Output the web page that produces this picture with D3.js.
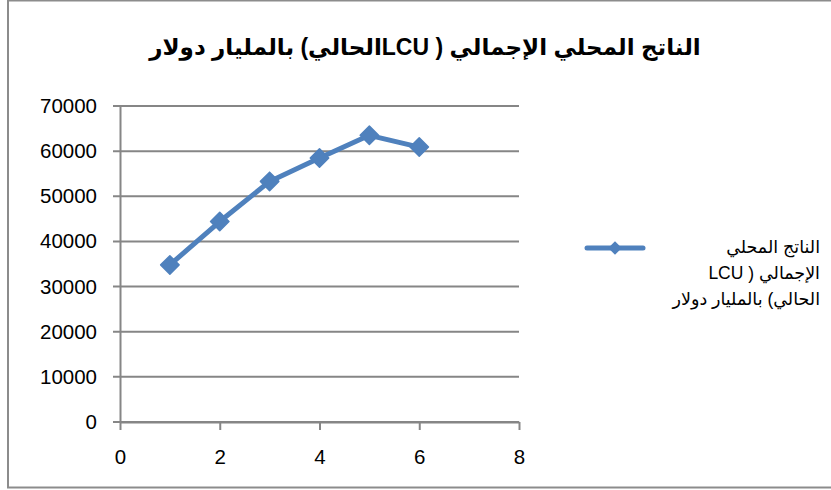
<!DOCTYPE html>
<meta charset="utf-8">
<style>
    body { margin: 0; background: #fff; }
    text { font-family: Arial, "Liberation Sans", "DejaVu Sans", sans-serif; }
    #chart { display: block; }
</style>
<svg id="chart" width="831" height="490"></svg>
<script src="https://d3js.org/d3.v7.min.js"></script>
<script>

    // data
    var years = [1, 2, 3, 4, 5, 6];
    var gdp = [34800, 44400, 53300, 58500, 63500, 60900];
    var xTicks = [0, 2, 4, 6, 8];
    var yTicks = [0, 10000, 20000, 30000, 40000, 50000, 60000, 70000];
    var title = "الناتج المحلي الإجمالي ( LCUالحالي) بالمليار دولار";
    var legendLines = ["الناتج المحلي", "الإجمالي ( LCU", "الحالي) بالمليار دولار"];

    var svg = d3.select("#chart"),
        width = +svg.attr("width"),
        height = +svg.attr("height");

    var blue = "#4f81bd",
        grey = "#868686";

    // chart border
    svg.append("rect")
        .attr("x", 8).attr("y", 0.5)
        .attr("width", 840).attr("height", 487)
        .attr("fill", "none")
        .attr("stroke", "#8c8c8c")
        .attr("stroke-width", 2);

    var x = d3.scaleLinear().domain([0, 8]).range([120, 519]);
    var y = d3.scaleLinear().domain([0, 70000]).range([422, 106]);

    // gridlines
    svg.append("g")
        .selectAll("line")
        .data(yTicks)
        .enter().append("line")
        .attr("x1", 113).attr("x2", x(8))
        .attr("y1", d => y(d)).attr("y2", d => y(d))
        .attr("stroke", grey)
        .attr("stroke-width", 2);

    // y axis
    var yAxis = svg.append("g")
        .attr("transform", "translate(" + x(0) + ",0)")
        .call(d3.axisLeft(y).tickValues(yTicks).tickSize(0).tickPadding(23).tickFormat(d3.format("d")));
    yAxis.select(".domain").attr("stroke", grey).attr("stroke-width", 2);
    yAxis.selectAll("text").style("font-size", "20.5px").attr("fill", "#000");

    // x axis
    var xAxis = svg.append("g")
        .attr("transform", "translate(0," + y(0) + ")")
        .call(d3.axisBottom(x).tickValues(xTicks).tickSize(8).tickSizeOuter(0).tickPadding(19));
    xAxis.select(".domain").attr("stroke", grey).attr("stroke-width", 2);
    xAxis.selectAll(".tick line").attr("stroke", grey).attr("stroke-width", 2);
    xAxis.selectAll("text").style("font-size", "20.5px").attr("fill", "#000");

    // series line
    var line = d3.line()
        .x((d, i) => x(years[i]))
        .y(d => y(d));

    svg.append("path")
        .datum(gdp)
        .attr("d", line)
        .attr("fill", "none")
        .attr("stroke", blue)
        .attr("stroke-width", 5)
        .attr("stroke-linejoin", "round");

    // diamond markers: squares turned 45 degrees
    var marker = d3.symbol().type(d3.symbolSquare).size(170);

    svg.append("g")
        .selectAll("path")
        .data(gdp)
        .enter().append("path")
        .attr("d", marker)
        .attr("transform", (d, i) => "translate(" + x(years[i]) + "," + y(d) + ") rotate(45)")
        .attr("fill", blue)
        .attr("stroke", blue)
        .attr("stroke-width", 1.5)
        .attr("stroke-linejoin", "round");

    // title
    svg.append("text")
        .attr("x", 425).attr("y", 55)
        .attr("text-anchor", "middle")
        .attr("direction", "rtl")
        .style("font-size", "23px")
        .style("font-weight", "bold")
        .text(title);

    // legend
    var legend = svg.append("g");
    legend.append("line")
        .attr("x1", 587).attr("x2", 643)
        .attr("y1", 248).attr("y2", 248)
        .attr("stroke", blue)
        .attr("stroke-width", 5)
        .attr("stroke-linecap", "round");
    legend.append("path")
        .attr("d", d3.symbol().type(d3.symbolSquare).size(90))
        .attr("transform", "translate(615,248) rotate(45)")
        .attr("fill", blue);
    legend.selectAll("text")
        .data(legendLines)
        .enter().append("text")
        .attr("x", 820)
        .attr("y", (d, i) => 253 + i * 26)
        .attr("text-anchor", "start")
        .attr("direction", "rtl")
        .style("font-size", "17.5px")
        .text(d => d);

</script>
